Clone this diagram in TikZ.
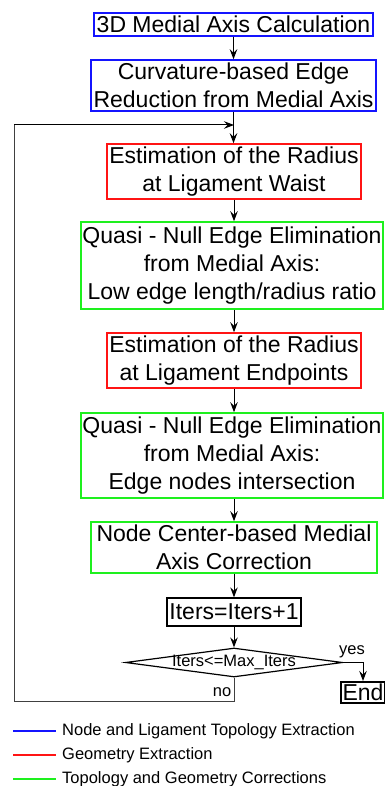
\documentclass[tikz,border=0pt]{standalone}
\usepackage{fontspec}
\setmainfont{Liberation Sans}
\usetikzlibrary{arrows.meta,shapes.geometric}
\definecolor{cblue}{RGB}{20,20,255}
\definecolor{cred}{RGB}{255,20,20}
\definecolor{cgreen}{RGB}{30,240,30}
\tikzset{
  box/.style={draw, line width=1.5pt, inner sep=0pt, align=center,
    font=\fontsize{23}{28}\selectfont},
  flow/.style={line width=1pt, -{Stealth[length=10pt,width=7.5pt,inset=3.5pt]}},
  loopline/.style={line width=1pt, draw=black!75},
  small/.style={font=\fontsize{16.5}{19}\selectfont, inner sep=0pt},
  legline/.style={line width=1.5pt},
}
\begin{document}
\begin{tikzpicture}[x=1pt,y=-1pt]
\useasboundingbox (0,0) rectangle (384,786);

% process boxes
\node[box, draw=cblue, minimum width=279, minimum height=23] (b1) at (233.5,24.5) {3D Medial Axis Calculation};
\node[box, draw=cblue, minimum width=285, minimum height=51] (b2) at (233.5,85.5) {Curvature-based Edge\\Reduction from Medial Axis};
\node[box, draw=cred, minimum width=254, minimum height=55] (b3) at (234,171.5) {Estimation of the Radius\\at Ligament Waist};
\node[box, draw=cgreen, minimum width=302, minimum height=87] (b4) at (232,265.5) {Quasi - Null Edge Elimination\\from Medial Axis:\\Low edge length/radius ratio};
\node[box, draw=cred, minimum width=254, minimum height=55] (b5) at (234,360.5) {Estimation of the Radius\\at Ligament Endpoints};
\node[box, draw=cgreen, minimum width=302, minimum height=85] (b6) at (232,455.5) {Quasi - Null Edge Elimination\\from Medial Axis:\\Edge nodes intersection};
\node[box, draw=cgreen, minimum width=286, minimum height=51] (b7) at (234,547.5) {Node Center-based Medial\\Axis Correction};
\node[box, draw=black, line width=1.3pt, minimum width=134, minimum height=28] (b8) at (234,612) {Iters=Iters+1};

% decision
\node[diamond, draw, line width=1.2pt, inner sep=0pt, minimum width=217, minimum height=29] (dec) at (234,662.5) {};
\node[small] (dectext) at (dec.center) {Iters<=Max\_Iters};

% end box
\node[box, draw=black, line width=2pt, minimum width=44, minimum height=21] (endb) at (363,692.5) {End};

% flow connectors
\draw[flow] (b1.south) -- (b1.south |- b2.north);
\coordinate (join) at (234,125);
\draw[flow] (b2.south) -- (b2.south |- b3.north);
\draw[flow] (b3.south) -- (b3.south |- b4.north);
\draw[flow] (b4.south -| b3.south) -- (b5.north);
\draw[flow] (b5.south) -- (b5.south |- b6.north);
\draw[flow] (b6.south -| b5.south) -- (b7.north);
\draw[flow] (b7.south) -- (b8.north);
\draw[flow] (b8.south) -- (dec.north);

% branches of the decision
\draw[flow] (dec.east) -| (endb.north);
\node[small] (yes) at (352,652) {yes};
\coordinate (loopb) at (14,701);
\coordinate (loopt) at (14,125);
\draw[loopline] (dec.south) |- (loopb) -- (loopt);
\draw[flow] (loopt) -- (join);
\node[small] (no) at (222,692) {no};

% legend
\coordinate (l1a) at (13,731); \coordinate (l1b) at (56,731);
\coordinate (l2a) at (13,755); \coordinate (l2b) at (56,755);
\coordinate (l3a) at (13,779); \coordinate (l3b) at (56,779);
\draw[legline, cblue] (l1a) -- (l1b);
\draw[legline, cred] (l2a) -- (l2b);
\draw[legline, cgreen] (l3a) -- (l3b);
\node[small, anchor=west] (t1) at (62,731) {Node and Ligament Topology Extraction};
\node[small, anchor=west] (t2) at (62,755) {Geometry Extraction};
\node[small, anchor=west] (t3) at (62,779) {Topology and Geometry Corrections};
\end{tikzpicture}
\end{document}
